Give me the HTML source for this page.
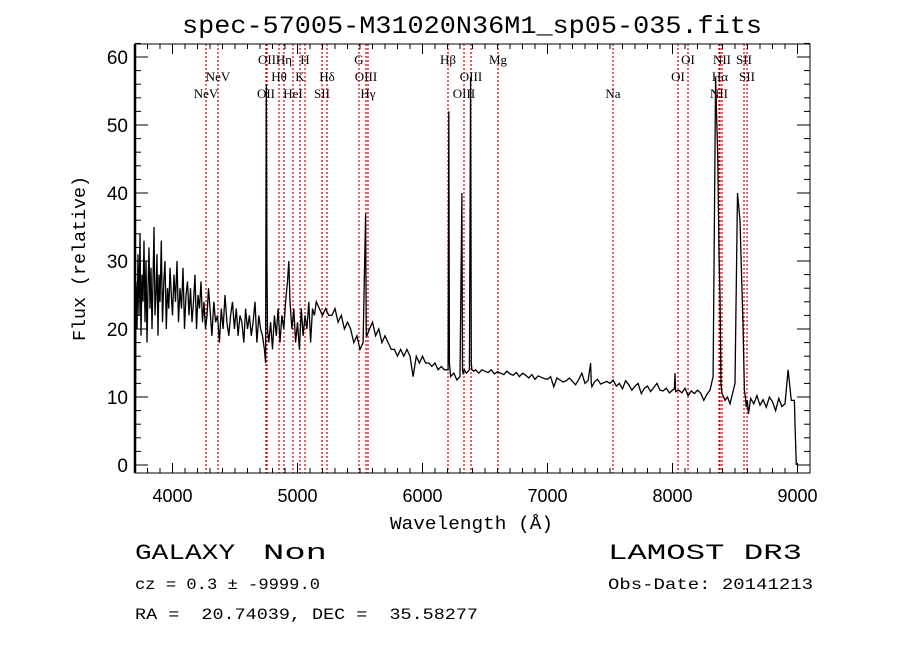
<!DOCTYPE html>
<html><head><meta charset="utf-8"><style>
body{margin:0;background:#fff;}
svg{display:block;font-family:"Liberation Sans",sans-serif;}
.lab{font-family:"Liberation Serif",serif;font-size:13px;fill:#000;}
</style></head><body>
<svg id="chart" width="900" height="649" viewBox="0 0 900 649">
<rect width="900" height="649" fill="#fff"/>
<text x="182" y="33" font-size="25" textLength="580" lengthAdjust="spacingAndGlyphs" font-family="Liberation Mono, monospace">spec-57005-M31020N36M1_sp05-035.fits</text>
<g id="lines"></g>
<g id="labels"></g>
<path id="spec" fill="none" stroke="#000" stroke-width="1.3"/>
<rect x="135" y="44" width="675" height="429" fill="none" stroke="#000" stroke-width="1"/>
<line x1="135" y1="44" x2="135" y2="473" stroke="#000" stroke-width="2.5"/>
<g id="ticks"></g>
<text x="390" y="529" font-size="18" textLength="163" lengthAdjust="spacingAndGlyphs" font-family="Liberation Mono, monospace">Wavelength (Å)</text>
<text x="0" y="0" font-size="18" textLength="165" lengthAdjust="spacingAndGlyphs" font-family="Liberation Mono, monospace" transform="translate(85 341) rotate(-90)">Flux (relative)</text>
<text x="135" y="559" font-size="22" textLength="100" lengthAdjust="spacingAndGlyphs" font-family="Liberation Mono, monospace">GALAXY</text>
<text x="263" y="559" font-size="22" textLength="64" lengthAdjust="spacingAndGlyphs" font-family="Liberation Mono, monospace">Non</text>
<text x="135" y="589" font-size="16" textLength="185" lengthAdjust="spacingAndGlyphs" font-family="Liberation Mono, monospace">cz = 0.3 ± -9999.0</text>
<text x="135" y="619" font-size="16" textLength="343" lengthAdjust="spacingAndGlyphs" font-family="Liberation Mono, monospace">RA =&#160; 20.74039, DEC =&#160; 35.58277</text>
<text x="608" y="559" font-size="22" textLength="194" lengthAdjust="spacingAndGlyphs" font-family="Liberation Mono, monospace">LAMOST DR3</text>
<text x="608" y="589" font-size="16" textLength="205" lengthAdjust="spacingAndGlyphs" font-family="Liberation Mono, monospace">Obs-Date: 20141213</text>
</svg>
<script>
const wavelengths=[3700,3702,3708,3716,3724,3732,3740,3748,3756,3764,3772,3780,3788,3796,3804,3812,3820,3828,3836,3844,3852,3860,3868,3876,3884,3892,3900,3910,3920,3930,3940,3950,3960,3970,3980,3990,4000,4012,4024,4036,4048,4060,4072,4084,4096,4108,4120,4132,4144,4156,4168,4180,4192,4204,4216,4228,4240,4252,4264,4276,4288,4300,4315,4330,4345,4360,4375,4390,4405,4420,4435,4450,4465,4480,4495,4510,4525,4540,4555,4570,4585,4600,4615,4630,4645,4660,4675,4690,4705,4720,4735,4745,4750,4755,4760,4770,4785,4800,4815,4830,4845,4860,4875,4890,4905,4920,4930,4940,4955,4970,4985,5000,5015,5030,5045,5060,5075,5090,5105,5120,5135,5150,5175,5200,5225,5250,5275,5300,5325,5350,5375,5400,5425,5450,5475,5500,5525,5545,5550,5555,5575,5600,5625,5650,5675,5700,5725,5750,5775,5800,5825,5850,5875,5900,5925,5950,5975,6000,6025,6050,6075,6100,6125,6150,6175,6200,6205,6210,6215,6225,6250,6275,6300,6315,6320,6325,6335,6350,6375,6385,6390,6395,6410,6425,6450,6475,6500,6525,6550,6575,6600,6625,6650,6675,6700,6725,6750,6775,6800,6825,6850,6875,6900,6925,6950,6975,7000,7025,7050,7075,7100,7125,7150,7175,7200,7225,7250,7275,7300,7325,7345,7350,7355,7375,7400,7425,7450,7475,7500,7525,7550,7575,7600,7625,7650,7675,7700,7725,7750,7775,7800,7825,7850,7875,7900,7925,7950,7975,8000,8015,8020,8025,8050,8075,8100,8125,8150,8175,8200,8225,8250,8275,8300,8325,8345,8362,8372,8380,8388,8396,8405,8420,8440,8460,8480,8500,8520,8540,8565,8575,8583,8590,8598,8608,8625,8650,8675,8700,8725,8750,8775,8800,8825,8850,8875,8900,8925,8950,8975,8980,8990,9025,9045,9055,9060];
const flux=[13,0,27,20,31,22,34,19,28,24,33,21,30,18,26,32,23,29,20,27,35,22,25,31,19,28,24,33,21,27,30,20,26,23,29,25,22,28,24,30,21,26,23,29,20,25,27,22,26,21,24,28,20,25,23,27,21,24,20,22,26,23,19,24,21,22,18,23,20,25,21,19,22,24,20,23,19,22,21,18,23,20,22,19,21,24,18,22,20,19,17,15,56,30,20,18,21,17,22,19,23,18,22,20,24,27,30,24,20,23,18,21,17,23,19,22,20,24,18,23,22,24,23,22,23,22,22,23,21,22,20,21,20,18,19,17,18,37,19,19,20,21,19,20,18,19,18,17,17,16,17,16,17,16,13,16,15,16,15,15,14.5,15,14,14.5,14,14,14,52,15,13,13.5,12.5,13,40,14,13.5,14,13.5,14,57,15,14,13.8,14,13.5,14,13.8,13.6,14,13.4,13.7,13.5,13.3,13.8,13.4,13.2,13.6,13,13.5,13.2,12.8,13.3,12.6,13.1,12.9,12.7,12.6,13,11.5,12.8,12.5,12.2,12.4,12.8,12.3,11.8,12.6,13.5,12,12.4,15,12,11.5,12.2,12.6,11.9,12.1,12.3,12,12.5,11.6,12,11.2,12.4,11.8,11,11.6,12,10.5,11.3,11.6,10.8,11.4,12,11,10.9,11.3,10.6,11,11.2,13.5,10.8,11,10.6,11.3,10.2,10.9,10.5,11,10.6,9.5,10.4,11,13,57,45,31,25,12,10.5,10.2,9.5,10,9,10.5,12,40,36,20,11,10,8.5,9.5,7.5,9.8,9,10.2,8.8,9.6,8.5,10,9.3,8,9.8,8.6,9,14,9.5,9.5,6,0];
const lineWl=[4268,4364,4748,4756,4852,4892,4964,5020,5060,5196,5236,5492,5548,5564,6204,6332,6388,6604,7524,8044,8124,8372,8380,8396,8572,8596];
const lineName=["NeV","NeV","OII","OII","Hθ","Hη","HeI","K","H","SII","Hδ","G","OIII","Hγ","Hβ","OIII","OIII","Mg","Na","OI","OI","NII","Hα","NII","SII","SII"];
const lineRow=[3,2,3,1,2,1,3,2,1,3,2,1,2,3,1,3,2,1,3,2,1,3,2,1,1,2];
const xTicks=[4000,5000,6000,7000,8000,9000];
const yTicks=[0,10,20,30,40,50,60];
const L=135,R=810,T=44,B=473;
const xs=w=>L+(w-3700)*(R-L)/5400;
const ys=f=>465-f*6.8;
const NS='http://www.w3.org/2000/svg';
function mk(tag,attrs,parent){const e=document.createElementNS(NS,tag);for(const k in attrs)e.setAttribute(k,attrs[k]);parent.appendChild(e);return e;}
const lg=document.getElementById('lines'),lb=document.getElementById('labels'),tk=document.getElementById('ticks');
lineWl.forEach((w,i)=>{
  const x=xs(w);
  const l=mk('line',{x1:x,x2:x,y1:T,y2:B,stroke:'#c00','stroke-width':1.2,'stroke-dasharray':'2,2'},lg);
  
  
  const t=mk('text',{x:x,y:47+lineRow[i]*17,'text-anchor':'middle',class:'lab'},lb);
  t.textContent=lineName[i];
  
  
});
let d='';
wavelengths.forEach((w,i)=>{const f=Math.max(-1,Math.min(flux[i],61.5));d+=(i?'L':'M')+xs(w).toFixed(1)+','+ys(f).toFixed(1);});
document.getElementById('spec').setAttribute('d',d);
for(let w=3700;w<=9100;w+=100){
  const x=xs(w);const maj=w%1000===0;const len=maj?10:5;
  mk('line',{x1:x,x2:x,y1:B,y2:B-len,stroke:'#000'},tk);
  mk('line',{x1:x,x2:x,y1:T,y2:T+len,stroke:'#000'},tk);
}
xTicks.forEach(w=>{const t=mk('text',{x:xs(w),y:502,'font-size':18,'text-anchor':'middle'},tk);t.textContent=w;
  
  });
for(let f=0;f<=62;f+=2){
  const y=ys(f);const maj=f%10===0;const len=maj?13:6;
  mk('line',{x1:L,x2:L+len,y1:y,y2:y,stroke:'#000'},tk);
  mk('line',{x1:R,x2:R-len,y1:y,y2:y,stroke:'#000'},tk);
}
yTicks.forEach(f=>{const t=mk('text',{x:128,y:ys(f)+7,'font-size':19,'text-anchor':'end'},tk);t.textContent=f;
  
  });
</script>
</body></html>
